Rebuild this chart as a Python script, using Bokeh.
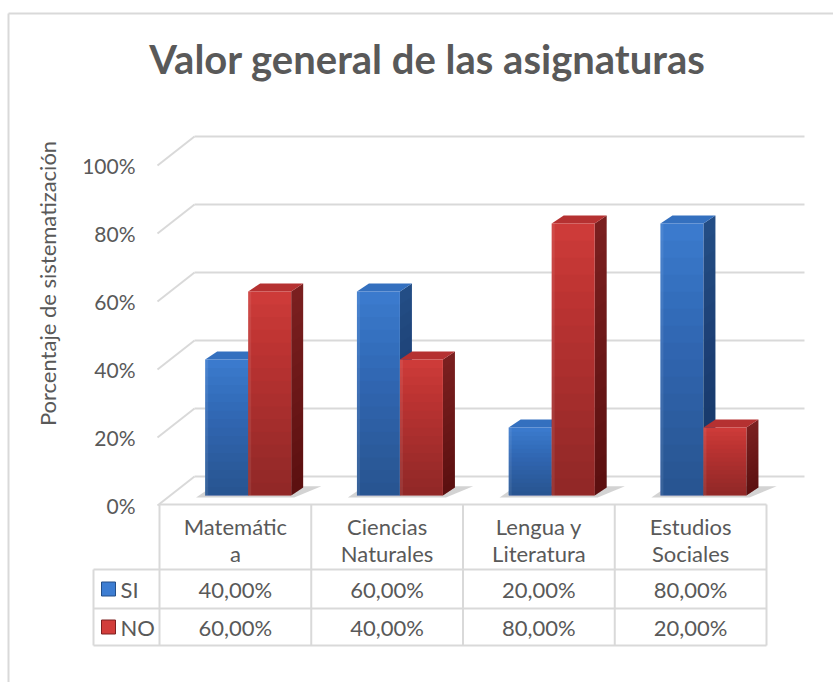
import math
from bokeh.plotting import figure
from bokeh.models import Range1d
from bokeh.core.properties import value
from bokeh.embed import file_html
from bokeh.resources import INLINE

# ---------------- data ----------------
categories = ["Matemátic\na", "Ciencias\nNaturales", "Lengua y\nLiteratura", "Estudios\nSociales"]
series_names = ["SI", "NO"]
si_values = [0.40, 0.60, 0.20, 0.80]
no_values = [0.60, 0.40, 0.80, 0.20]
y_ticks = [0.0, 0.2, 0.4, 0.6, 0.8, 1.0]
title_text = "Valor general de las asignaturas"
y_label = "Porcentaje de sistematización"

# ---------------- style / geometry ----------------
W, H = 833, 682
FONT = "Lato"
TXT = "#595959"
GRID = "#d9d9d9"
PX_CAT = 151.75      # pixels per category (x unit)
PX_VAL = 340.0       # pixels per 100 %
ORIGIN_X = 159.0     # px of category 0 left edge (front plane / table)
ORIGIN_Y = 505.0     # px of 0 % on the front plane


def xu(px):  # canvas px -> category units
    return (px - ORIGIN_X) / PX_CAT


def vu(py):  # canvas px -> value units
    return (ORIGIN_Y - py) / PX_VAL


BACK_DX = 37 / PX_CAT
BACK_DY = 29 / PX_VAL
BAR_GX = 12.8 / PX_CAT
BAR_B0 = 10 / PX_VAL
BW = 43 / PX_CAT
DX = 12 / PX_CAT
DY = 8 / PX_VAL

colors = {
    "SI": dict(front="#3d7dd2", side="#244f88", top="#3470bf"),
    "NO": dict(front="#d23d3b", side="#7c2020", top="#b53131"),
}

p = figure(width=W, height=H, output_backend="svg", toolbar_location=None,
           x_range=Range1d(xu(0), xu(W)), y_range=Range1d(vu(H), vu(0)),
           x_axis_location=None, y_axis_location=None,
           min_border=0, min_border_left=0, min_border_right=0,
           min_border_top=0, min_border_bottom=0)
p.grid.visible = False
p.outline_line_color = None
p.background_fill_color = "white"
p.border_fill_color = "white"

# chart area border (top + left visible)
p.segment(x0=[xu(8), xu(8)], y0=[vu(13), vu(13)], x1=[xu(W), xu(8)], y1=[vu(13), vu(H)],
          line_color=GRID, line_width=2)

# title
p.text(x=[xu(427)], y=[vu(58)], text=[title_text], text_font=value(FONT),
       text_font_size="40px", text_font_style="bold", text_color=TXT,
       text_align="center", text_baseline="alphabetic")

# y axis label
p.text(x=[xu(47)], y=[vu(283)], text=[y_label], angle=math.pi / 2, text_font=value(FONT),
       text_font_size="22px", text_color=TXT, text_align="center", text_baseline="middle")

# y tick labels (front plane)
p.text(x=[xu(135)] * len(y_ticks), y=y_ticks, text=[f"{int(round(t * 100))}%" for t in y_ticks],
       text_font=value(FONT), text_font_size="21px", text_color=TXT,
       text_align="right", text_baseline="middle")

# back wall gridlines and side wall diagonals
x_front_left = xu(157)
x_back_left = x_front_left + BACK_DX
x_back_right = xu(804)
p.segment(x0=[x_back_left] * len(y_ticks), y0=[t + BACK_DY for t in y_ticks],
          x1=[x_back_right] * len(y_ticks), y1=[t + BACK_DY for t in y_ticks],
          line_color=GRID, line_width=2)
p.segment(x0=[x_front_left] * len(y_ticks), y0=y_ticks,
          x1=[x_back_left] * len(y_ticks), y1=[t + BACK_DY for t in y_ticks],
          line_color=GRID, line_width=2)

n = len(categories)
centers = [i + 0.5 + BAR_GX for i in range(n)]

# shadows on the floor
sh_xs, sh_ys = [], []
for c in centers:
    gl, gr = c - BW, c + BW
    sh_xs.append([gl - 0.06, gr + 0.02, gr + DX + 0.12, gl + DX - 0.03])
    sh_ys.append([BAR_B0 - 0.006, BAR_B0 - 0.006, BAR_B0 + DY + 0.004, BAR_B0 + DY + 0.004])
p.patches(xs=sh_xs, ys=sh_ys, fill_color="#808080", fill_alpha=0.35, line_color=None)

NSTEP = 16
for s, vals in zip(series_names, [si_values, no_values]):
    col = colors[s]
    lefts = [c - BW if s == "SI" else c for c in centers]
    rights = [l + BW for l in lefts]
    bottoms = [BAR_B0] * n
    tops = [v + BAR_B0 for v in vals]
    p.patches(xs=[[r, r + DX, r + DX, r] for r in rights],
              ys=[[b, b + DY, t + DY, t] for b, t in zip(bottoms, tops)],
              fill_color=col["side"], line_color=None)
    p.patches(xs=[[l, r, r + DX, l + DX] for l, r in zip(lefts, rights)],
              ys=[[t, t, t + DY, t + DY] for t in tops],
              fill_color=col["top"], line_color=None)
    p.quad(left=lefts, right=rights, bottom=bottoms, top=tops,
           fill_color=col["front"], line_color=None)
    for k in range(1, NSTEP + 1):
        f = k / NSTEP
        p.quad(left=lefts, right=rights, bottom=bottoms,
               top=[b + (t - b) * f for b, t in zip(bottoms, tops)],
               fill_color="black", fill_alpha=0.018, line_color=None)
        p.patches(xs=[[r, r + DX, r + DX, r] for r in rights],
                  ys=[[b, b + DY, b + (t - b) * f + DY, b + (t - b) * f] for b, t in zip(bottoms, tops)],
                  fill_color="black", fill_alpha=0.015, line_color=None)
    p.quad(left=lefts, right=[l + 3 / PX_CAT for l in lefts], bottom=bottoms, top=tops,
           fill_color="white", fill_alpha=0.08, line_color=None)

# ---------------- data table ----------------
ROW_TOP, ROW_HDR, ROW_SI, ROW_NO = vu(504), vu(569), vu(608), vu(645)
x_leg = xu(93)
p.segment(x0=[0, x_leg, x_leg, x_leg], y0=[ROW_TOP, ROW_HDR, ROW_SI, ROW_NO],
          x1=[n] * 4, y1=[ROW_TOP, ROW_HDR, ROW_SI, ROW_NO], line_color=GRID, line_width=2)
p.segment(x0=[x_leg] + list(range(n + 1)), y0=[ROW_HDR] + [ROW_TOP] * (n + 1),
          x1=[x_leg] + list(range(n + 1)), y1=[ROW_NO] * (n + 2), line_color=GRID, line_width=2)

xs_c = [i + 0.5 for i in range(n)]
p.text(x=xs_c, y=[vu(539)] * n, text=categories, text_font=value(FONT), text_font_size="22px",
       text_color=TXT, text_align="center", text_baseline="middle", text_line_height=1.0)


def fmt(v):
    return f"{v * 100:.2f}%".replace(".", ",")


y_si = (ROW_HDR + ROW_SI) / 2
y_no = (ROW_SI + ROW_NO) / 2
p.text(x=xs_c, y=[y_si] * n, text=[fmt(v) for v in si_values], text_font=value(FONT),
       text_font_size="22px", text_color=TXT, text_align="center", text_baseline="middle")
p.text(x=xs_c, y=[y_no] * n, text=[fmt(v) for v in no_values], text_font=value(FONT),
       text_font_size="22px", text_color=TXT, text_align="center", text_baseline="middle")

p.rect(x=[xu(108)] * 2, y=[y_si, y_no], width=14, height=14, width_units="screen",
       height_units="screen", fill_color=[colors["SI"]["front"], colors["NO"]["front"]],
       line_color=[colors["SI"]["side"], colors["NO"]["side"]], line_width=1)
p.text(x=[xu(120)] * 2, y=[y_si, y_no], text=series_names, text_font=value(FONT),
       text_font_size="22px", text_color=TXT, text_align="left", text_baseline="middle")

open("out.html", "w").write(file_html(p, INLINE))
